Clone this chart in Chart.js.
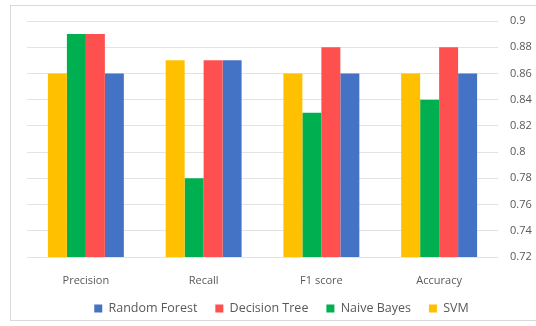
<!DOCTYPE html>
<html>
<head>
<meta charset="utf-8">
<script src="https://cdn.jsdelivr.net/npm/chart.js@4/dist/chart.umd.min.js"></script>
<style>
  html, body { margin: 0; padding: 0; background: #ffffff; }
  #wrap { position: relative; width: 536px; height: 326px; overflow: hidden; }
  #frame { position: absolute; left: 10px; top: 5px; width: 540px; height: 316px; border: 1px solid #d9d9d9; box-sizing: border-box; }
  canvas { position: absolute; left: 0; top: 0; }
</style>
</head>
<body>
<div id="wrap">
  <div id="frame"></div>
  <canvas id="c" width="536" height="326"></canvas>
</div>
<script>
const categories = ["Precision", "Recall", "F1 score", "Accuracy"];
const svm          = [0.86, 0.87, 0.86, 0.86];
const naiveBayes   = [0.89, 0.78, 0.83, 0.84];
const decisionTree = [0.89, 0.87, 0.88, 0.88];
const randomForest = [0.86, 0.87, 0.86, 0.86];
const yTicks = [0.72, 0.74, 0.76, 0.78, 0.8, 0.82, 0.84, 0.86, 0.88, 0.9];

const font = { family: "'Open Sans', 'Liberation Sans', sans-serif", size: 11 };
const textColor = "#595959";

// Bottom legend: keep wide spacing between items but a short band,
// drawing the row slightly higher inside that band.
const legendBand = {
  id: "legendBand",
  beforeLayout(chart) {
    const lg = chart.legend;
    if (lg && !lg._band) {
      const fit = lg.fit, draw = lg.draw;
      lg.fit = function () { fit.call(this); this.height = 29.8; };
      lg.draw = function () {
        const t = this.top;
        this.top = t - 12;
        draw.call(this);
        this.top = t;
      };
      lg._band = true;
    }
  }
};

new Chart(document.getElementById("c"), {
  type: "bar",
  data: {
    labels: categories,
    datasets: [
      { label: "SVM", data: svm, backgroundColor: "#FFC000" },
      { label: "Naive Bayes", data: naiveBayes, backgroundColor: "#00B050" },
      { label: "Decision Tree", data: decisionTree, backgroundColor: "#FF5050" },
      { label: "Random Forest", data: randomForest, backgroundColor: "#4472C4" }
    ]
  },
  plugins: [legendBand],
  options: {
    responsive: false,
    animation: false,
    layout: { padding: { left: 27, right: 0, top: 21, bottom: 0 } },
    datasets: { bar: { barPercentage: 1.0, categoryPercentage: 0.645 } },
    plugins: {
      tooltip: { enabled: false },
      legend: {
        position: "bottom",
        reverse: true,
        labels: {
          boxWidth: 8, boxHeight: 8, padding: 18,
          color: textColor,
          font: { family: font.family, size: 12.5 }
        }
      }
    },
    scales: {
      x: {
        grid: { display: false },
        border: { display: false },
        ticks: { color: textColor, font: font, padding: 9 }
      },
      y: {
        position: "right",
        min: 0.72,
        max: 0.9,
        afterBuildTicks: (scale) => { scale.ticks = yTicks.map(v => ({ value: v })); },
        afterFit: (scale) => { scale.width = 38; },
        grid: { color: "#e3e3e3", drawTicks: false },
        border: { display: false },
        ticks: { color: textColor, font: font, padding: 12, callback: (v) => String(+v.toFixed(2)) }
      }
    }
  }
});
</script>
</body>
</html>
